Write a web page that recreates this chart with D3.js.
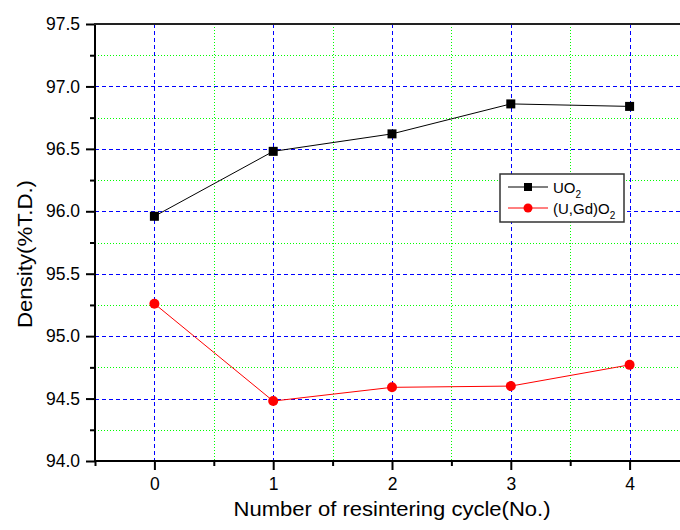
<!DOCTYPE html>
<html>
<head>
<meta charset="utf-8">
<script src="https://cdn.jsdelivr.net/npm/d3@7"></script>
<style>
  body { margin: 0; background: #fff; }
  text { font-family: "Liberation Sans", Arial, sans-serif; }
</style>
</head>
<body>
<div id="container"></div>
<script>
const WIDTH = 680;
const HEIGHT = 530;
const MARGIN = { TOP: 24, LEFT: 95 };

// data
const cycles = [0, 1, 2, 3, 4];
const uo2 = [95.96, 96.48, 96.62, 96.86, 96.84];
const ugdo2 = [95.26, 94.48, 94.59, 94.60, 94.77];
const yTicks = [94.0, 94.5, 95.0, 95.5, 96.0, 96.5, 97.0, 97.5];
const yMinor = [94.25, 94.75, 95.25, 95.75, 96.25, 96.75, 97.25];
const xMinor = [-0.5, 0.5, 1.5, 2.5, 3.5, 4.5];

const xscale = d3.scaleLinear().domain([-0.5, 4.5]).range([MARGIN.LEFT, MARGIN.LEFT + 594]);
const yscale = d3.scaleLinear().domain([94.0, 97.5]).range([461, MARGIN.TOP]);

// snap to pixel centre so 1px dashes stay sharp
const px = v => Math.round(v) + 0.5;

const svg = d3.select('#container')
              .append('svg')
                .attr('width', WIDTH)
                .attr('height', HEIGHT);

// grid: minor green dotted, major blue dashed
const grid = svg.append('g').attr('shape-rendering', 'crispEdges');
grid.selectAll('.gx-minor').data(xMinor.slice(1)).enter()
    .append('line')
      .attr('x1', d => px(xscale(d))).attr('x2', d => px(xscale(d)))
      .attr('y1', yscale(97.5)).attr('y2', yscale(94.0))
      .attr('stroke', '#00ff00').attr('stroke-width', 1)
      .attr('stroke-dasharray', '1,2');
grid.selectAll('.gy-minor').data(yMinor).enter()
    .append('line')
      .attr('x1', xscale(-0.5)).attr('x2', WIDTH)
      .attr('y1', d => px(yscale(d))).attr('y2', d => px(yscale(d)))
      .attr('stroke', '#00ff00').attr('stroke-width', 1)
      .attr('stroke-dasharray', '1,2');
grid.selectAll('.gx-major').data(cycles).enter()
    .append('line')
      .attr('x1', d => px(xscale(d))).attr('x2', d => px(xscale(d)))
      .attr('y1', yscale(97.5)).attr('y2', yscale(94.0))
      .attr('stroke', '#0000ff').attr('stroke-width', 1)
      .attr('stroke-dasharray', '4,3');
grid.selectAll('.gy-major').data(yTicks.slice(1, -1)).enter()
    .append('line')
      .attr('x1', xscale(-0.5)).attr('x2', WIDTH)
      .attr('y1', d => px(yscale(d))).attr('y2', d => px(yscale(d)))
      .attr('stroke', '#0000ff').attr('stroke-width', 1)
      .attr('stroke-dasharray', '4,3');

// axes
const axisLeft = d3.axisLeft(yscale)
                   .tickValues(yTicks)
                   .tickFormat(d3.format('.1f'))
                   .tickSize(9).tickPadding(6);
const axisLeftMinor = d3.axisLeft(yscale).tickValues(yMinor).tickFormat('').tickSize(5);
const axisBottom = d3.axisBottom(xscale)
                     .tickValues(cycles)
                     .tickFormat(d3.format('d'))
                     .tickSize(9).tickPadding(8);
const axisBottomMinor = d3.axisBottom(xscale).tickValues(xMinor).tickFormat('').tickSize(5);

const styleAxis = g => {
    g.select('.domain').remove();
    g.selectAll('line').attr('stroke', '#000').attr('stroke-width', 2);
    g.selectAll('text').attr('fill', '#000').style('font-size', '17.5px');
};

svg.append('g').attr('transform', `translate(${xscale(-0.5)},0)`).call(axisLeft).call(styleAxis);
svg.append('g').attr('transform', `translate(${xscale(-0.5)},0)`).call(axisLeftMinor).call(styleAxis);
svg.append('g').attr('transform', `translate(0,${yscale(94.0)})`).call(axisBottom).call(styleAxis);
svg.append('g').attr('transform', `translate(0,${yscale(94.0)})`).call(axisBottomMinor).call(styleAxis);

// frame
svg.append('line')
     .attr('x1', xscale(-0.5)).attr('x2', xscale(-0.5))
     .attr('y1', yscale(97.5)).attr('y2', yscale(94.0))
     .attr('stroke', '#000').attr('stroke-width', 2);
svg.append('line')
     .attr('x1', xscale(-0.5) - 1).attr('x2', WIDTH)
     .attr('y1', yscale(94.0)).attr('y2', yscale(94.0))
     .attr('stroke', '#000').attr('stroke-width', 2);
svg.append('line')
     .attr('x1', xscale(-0.5) - 1).attr('x2', WIDTH)
     .attr('y1', yscale(97.5)).attr('y2', yscale(97.5))
     .attr('stroke', '#222').attr('stroke-width', 2);

// series
const line = d3.line().x((d, i) => xscale(cycles[i])).y(d => yscale(d));

svg.append('path').datum(uo2)
     .attr('d', line).attr('fill', 'none')
     .attr('stroke', '#000').attr('stroke-width', 1);
svg.append('path').datum(ugdo2)
     .attr('d', line).attr('fill', 'none')
     .attr('stroke', '#ff0000').attr('stroke-width', 1);

svg.selectAll('.sq').data(uo2).enter()
   .append('rect')
     .attr('x', (d, i) => xscale(cycles[i]) - 4.5)
     .attr('y', d => yscale(d) - 4.5)
     .attr('width', 9).attr('height', 9)
     .attr('fill', '#000');
svg.selectAll('.dot').data(ugdo2).enter()
   .append('circle')
     .attr('cx', (d, i) => xscale(cycles[i]))
     .attr('cy', d => yscale(d))
     .attr('r', 5)
     .attr('fill', '#ff0000');

// legend
const legend = svg.append('g').attr('transform', 'translate(500,174)');
legend.append('rect')
        .attr('width', 124).attr('height', 48)
        .attr('fill', '#fff').attr('stroke', '#333').attr('stroke-width', 1.5);
legend.append('line').attr('x1', 8).attr('x2', 48).attr('y1', 13).attr('y2', 13)
        .attr('stroke', '#000');
legend.append('rect').attr('x', 24).attr('y', 9).attr('width', 8).attr('height', 8).attr('fill', '#000');
legend.append('line').attr('x1', 8).attr('x2', 48).attr('y1', 34).attr('y2', 34)
        .attr('stroke', '#ff0000');
legend.append('circle').attr('cx', 28).attr('cy', 34).attr('r', 4.5).attr('fill', '#ff0000');

const t1 = legend.append('text').attr('x', 53).attr('y', 19).style('font-size', '15px');
t1.append('tspan').text('UO');
t1.append('tspan').attr('dy', 5).style('font-size', '10px').text('2');
const t2 = legend.append('text').attr('x', 53).attr('y', 40).style('font-size', '15px');
t2.append('tspan').text('(U,Gd)O');
t2.append('tspan').attr('dy', 5).style('font-size', '10px').text('2');

// axis titles
svg.append('text')
     .attr('x', 392).attr('y', 516)
     .attr('text-anchor', 'middle')
     .style('font-size', '21px')
     .attr('textLength', 317).attr('lengthAdjust', 'spacingAndGlyphs')
     .text('Number of resintering cycle(No.)');
svg.append('text')
     .attr('transform', 'translate(32,254) rotate(-90)')
     .attr('text-anchor', 'middle')
     .style('font-size', '21px')
     .attr('textLength', 148).attr('lengthAdjust', 'spacingAndGlyphs')
     .text('Density(%T.D.)');
</script>
</body>
</html>
